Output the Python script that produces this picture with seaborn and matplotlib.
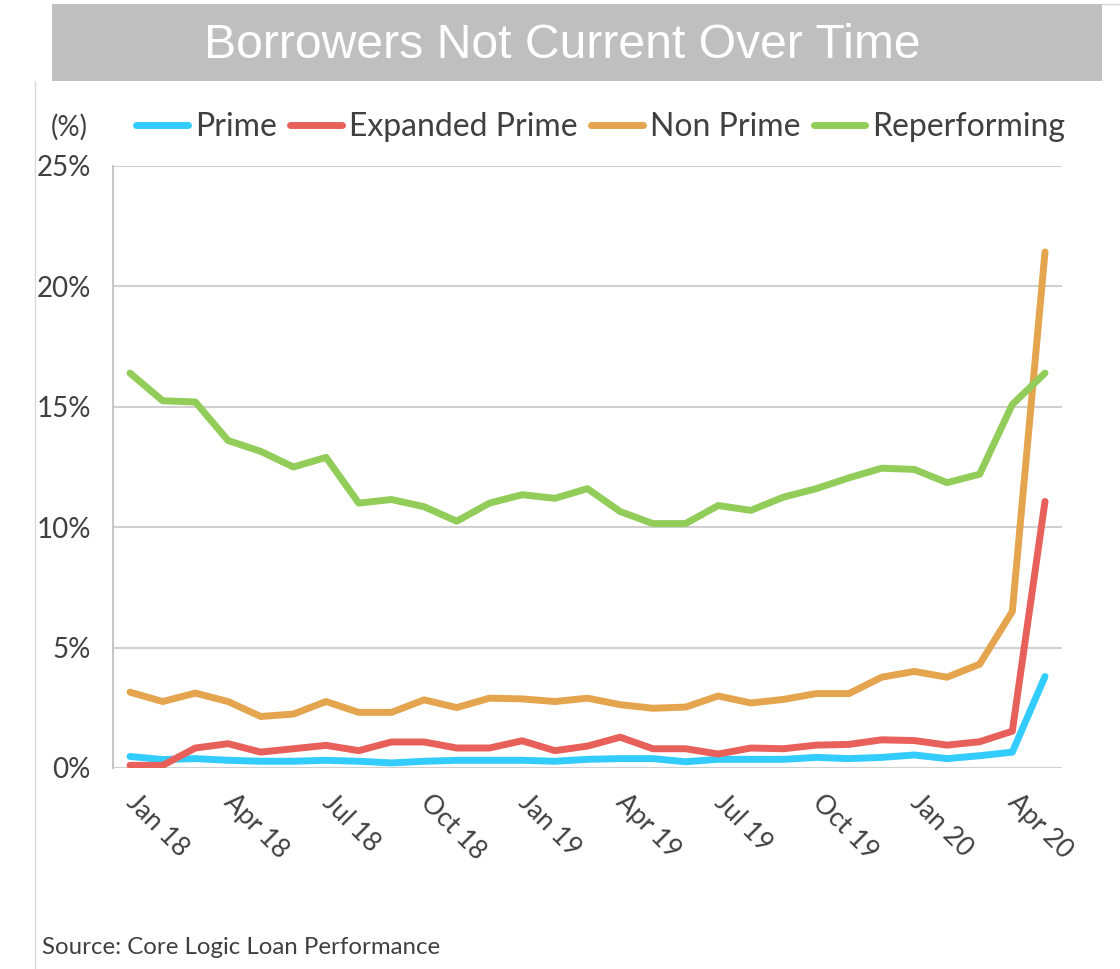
import numpy as np
import pandas as pd
import seaborn as sns
import matplotlib
matplotlib.use("Agg")
import matplotlib.pyplot as plt
from matplotlib.lines import Line2D
from matplotlib.patches import Rectangle

months = ["Jan 18", "Feb 18", "Mar 18", "Apr 18", "May 18", "Jun 18", "Jul 18", "Aug 18",
          "Sep 18", "Oct 18", "Nov 18", "Dec 18", "Jan 19", "Feb 19", "Mar 19", "Apr 19",
          "May 19", "Jun 19", "Jul 19", "Aug 19", "Sep 19", "Oct 19", "Nov 19", "Dec 19",
          "Jan 20", "Feb 20", "Mar 20", "Apr 20", "May 20"]

prime = [0.48, 0.35, 0.39, 0.32, 0.28, 0.28, 0.32, 0.28, 0.21, 0.28, 0.32, 0.32, 0.32, 0.28,
         0.36, 0.39, 0.39, 0.26, 0.36, 0.36, 0.36, 0.44, 0.39, 0.44, 0.54, 0.39, 0.51, 0.66, 3.8]
expanded_prime = [0.11, 0.11, 0.83, 1.01, 0.66, 0.80, 0.94, 0.72, 1.08, 1.08, 0.83, 0.83, 1.13, 0.72,
                  0.91, 1.28, 0.80, 0.80, 0.58, 0.83, 0.80, 0.95, 0.98, 1.17, 1.14, 0.95, 1.09, 1.53, 11.07]
non_prime = [3.15, 2.76, 3.11, 2.76, 2.14, 2.24, 2.76, 2.31, 2.31, 2.83, 2.51, 2.90, 2.87, 2.76,
             2.90, 2.63, 2.48, 2.53, 2.99, 2.70, 2.85, 3.09, 3.09, 3.77, 4.01, 3.77, 4.31, 6.50, 21.43]
reperforming = [16.40, 15.25, 15.20, 13.60, 13.15, 12.50, 12.90, 11.00, 11.15, 10.85, 10.25, 11.00,
                11.35, 11.20, 11.60, 10.65, 10.15, 10.15, 10.90, 10.70, 11.25, 11.60, 12.05, 12.45,
                12.40, 11.85, 12.20, 15.10, 16.40]

series_names = ["Prime", "Expanded Prime", "Non Prime", "Reperforming"]
series_colors = ["#33CCFF", "#E8605A", "#E5A54E", "#92CD5A"]
y_ticks = [0, 5, 10, 15, 20, 25]
y_tick_labels = ["0%", "5%", "10%", "15%", "20%", "25%"]
x_tick_step = 3

title = "Borrowers Not Current Over Time"
source = "Source: Core Logic Loan Performance"

rows = []
for name, vals in zip(series_names, [prime, expanded_prime, non_prime, reperforming]):
    for i, v in enumerate(vals):
        rows.append({"idx": i, "month": months[i], "value": v, "series": name})
df = pd.DataFrame(rows)

sns.set_theme(style="white")
plt.rcParams["font.family"] = ["Lato", "DejaVu Sans"]
text_color = "#404040"

W, H = 1120, 969
fig = plt.figure(figsize=(W / 100, H / 100), dpi=100)
fig.patch.set_facecolor("white")

ax = fig.add_axes([113 / W, 1 - 768 / H, (1062 - 113) / W, (768 - 166) / H])
sns.lineplot(data=df, x="idx", y="value", hue="series", hue_order=series_names,
             palette=series_colors, linewidth=5, ax=ax, legend=False,
             solid_capstyle="round", solid_joinstyle="round")

ax.set_xlim(-0.52, len(months) - 0.48)
ax.set_ylim(0, 25)
ax.set_yticks(y_ticks)
ax.set_yticklabels(y_tick_labels, fontsize=20, color=text_color)
ax.yaxis.grid(True, color="#D0D0D0", linewidth=1.5)
ax.xaxis.grid(False)
ax.set_axisbelow(True)
xt = list(range(0, len(months), x_tick_step))
ax.set_xticks(xt)
ax.set_xticklabels([months[i] for i in xt], fontsize=19, color=text_color,
                   rotation=-45, ha="left", va="center", rotation_mode="anchor")
ax.tick_params(axis="x", length=0, pad=22)
ax.tick_params(axis="y", length=0, pad=16)
ax.set_xlabel("")
ax.set_ylabel("")
for s in ["top", "right", "bottom"]:
    ax.spines[s].set_visible(False)
ax.spines["left"].set_color("#C8C8C8")
ax.spines["left"].set_linewidth(1.5)

# title band
fig.patches.append(Rectangle((52 / W, 1 - 81 / H), (1102 - 52) / W, (81 - 4) / H,
                             transform=fig.transFigure, facecolor="#BFBFBF", edgecolor="none"))
fig.text(562 / W, 1 - 45 / H, title, ha="center", va="center", color="white",
         fontsize=34.7, family=["Liberation Sans", "DejaVu Sans"])
fig.add_artist(Line2D([35 / W, 35 / W], [0, 1 - 81 / H], transform=fig.transFigure,
                      color="#D9D9D9", linewidth=1))
fig.add_artist(Line2D([1102 / W, 1.0], [1 - 4 / H, 1 - 4 / H], transform=fig.transFigure,
                      color="#D9D9D9", linewidth=1))

# legend
handles = [Line2D([0], [0], color=c, linewidth=5, solid_capstyle="round") for c in series_colors]
fig.legend(handles, series_names, loc="center left", bbox_to_anchor=(136 / W, 1 - 127 / H),
           ncol=4, frameon=False, fontsize=23, labelcolor=text_color,
           handlelength=1.62, handletextpad=0.22, columnspacing=0.42, borderpad=0,
           borderaxespad=0)
fig.text(88 / W, 1 - 127 / H, "(%)", ha="right", va="center", fontsize=20, color=text_color)
fig.text(42 / W, 1 - 948 / H, source, ha="left", va="center", fontsize=17.3, color=text_color)

fig.savefig("out.png", dpi=100)
